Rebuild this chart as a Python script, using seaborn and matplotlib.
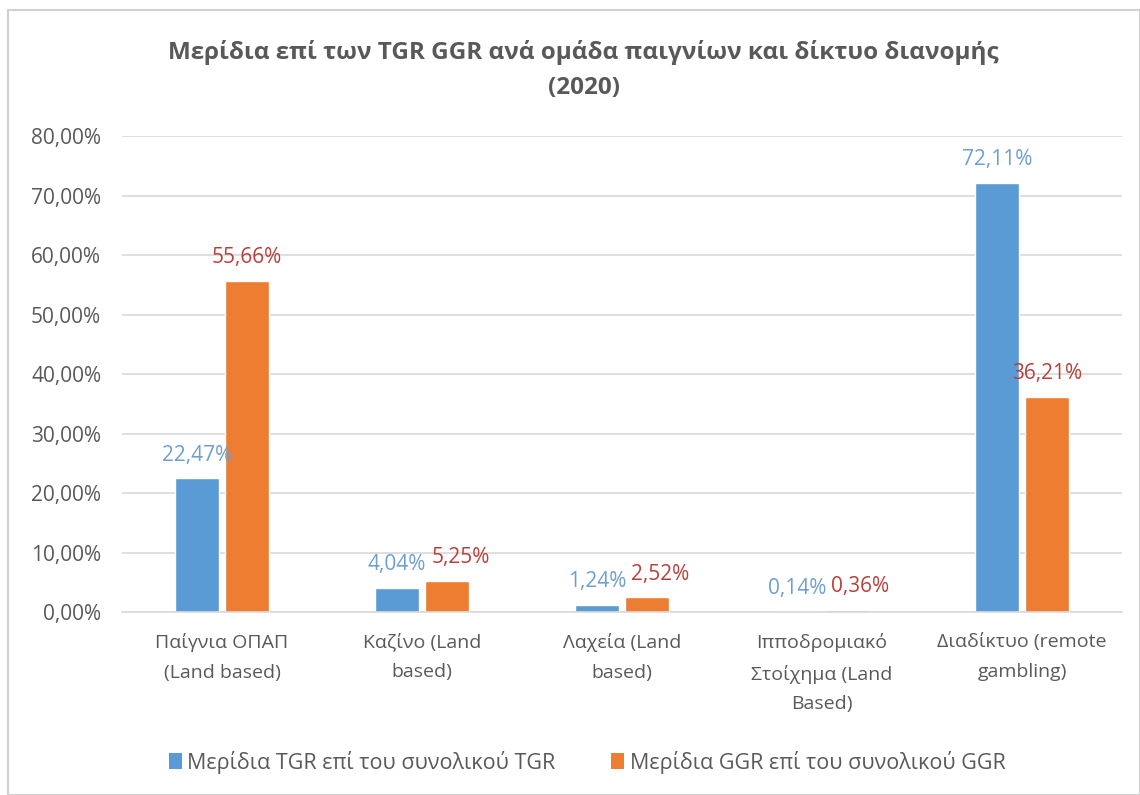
import matplotlib
matplotlib.use("Agg")
import matplotlib.pyplot as plt
import seaborn as sns
import pandas as pd
from matplotlib.patches import Rectangle, Patch

categories = ["Παίγνια ΟΠΑΠ\n(Land based)", "Καζίνο (Land\nbased)", "Λαχεία (Land\nbased)",
              "Ιπποδρομιακό\nΣτοίχημα (Land\nBased)", "Διαδίκτυο (remote\ngambling)"]
series_names = ["Μερίδια TGR επί του συνολικού TGR", "Μερίδια GGR επί του συνολικού GGR"]
tgr_values = [22.47, 4.04, 1.24, 0.14, 72.11]
ggr_values = [55.66, 5.25, 2.52, 0.36, 36.21]
y_ticks = [0, 10, 20, 30, 40, 50, 60, 70, 80]
title = "Μερίδια επί των TGR GGR ανά ομάδα παιγνίων και δίκτυο διανομής\n(2020)"

bar_colors = ["#5B9BD5", "#ED7D31"]
label_colors = ["#6f9fd0", "#b8403a"]
gray = "#595959"

sns.set_theme(style="white")
plt.rcParams["font.family"] = ["Open Sans", "DejaVu Sans"]

df = pd.DataFrame({
    "cat": categories * 2,
    "series": [series_names[0]] * len(categories) + [series_names[1]] * len(categories),
    "value": tgr_values + ggr_values,
})

fig = plt.figure(figsize=(11.4, 7.95), dpi=100)
fig.patch.set_facecolor("white")
fig.patches.append(Rectangle((8 / 1140, 0), 1 - 8 / 1140, 1 - 10 / 795, transform=fig.transFigure,
                             fill=False, edgecolor="#d0d0d0", linewidth=1.5))
ax = fig.add_axes([122 / 1140, 1 - 612 / 795, 1000 / 1140, (612 - 136) / 795])

sns.barplot(data=df, x="cat", y="value", hue="series", palette=bar_colors,
            width=0.5, gap=0.12, ax=ax, legend=False, saturation=1)

ax.set_ylim(0, 80)
ax.set_yticks(y_ticks)
ax.set_yticklabels([f"{t},00%" for t in y_ticks], color=gray, fontsize=15)
ax.set_xticks(range(len(categories)))
ax.set_xticklabels(categories, color=gray, fontsize=14, linespacing=1.85)
ax.tick_params(axis="x", length=0, pad=15)
ax.tick_params(axis="y", length=0, pad=15)
ax.set_xlabel("")
ax.set_ylabel("")
ax.yaxis.grid(True, color="#d9d9d9", linewidth=1.2)
ax.set_axisbelow(True)
for s in ["top", "right", "left"]:
    ax.spines[s].set_visible(False)
ax.spines["bottom"].set_color("#d9d9d9")
ax.spines["bottom"].set_linewidth(1.2)

label_sets = []
for container, vals, col in zip(ax.containers, [tgr_values, ggr_values], label_colors):
    labels = [f"{v:.2f}%".replace(".", ",") for v in vals]
    label_sets.append(ax.bar_label(container, labels=labels, padding=9, color=col, fontsize=15))

# nudge the second label of a pair to the right when the two labels collide
fig.canvas.draw()
renderer = fig.canvas.get_renderer()
for a, b in zip(label_sets[0], label_sets[1]):
    ba = a.get_window_extent(renderer)
    bb = b.get_window_extent(renderer)
    if ba.y1 > bb.y0 and bb.y1 > ba.y0:
        overlap = ba.x1 - bb.x0 + 5
        if overlap > 0:
            dx, dy = b.xyann
            b.xyann = (dx + overlap * 72 / fig.dpi, dy)

fig.text(0.512, 1 - 70 / 795, title, ha="center", va="center", fontsize=17.5, fontweight="bold",
         color=gray, linespacing=1.6)

handles = [Patch(facecolor=c, edgecolor="none") for c in bar_colors]
fig.legend(handles, series_names, loc="center", bbox_to_anchor=(0.515, 1 - 762 / 795), ncol=2,
           frameon=False, fontsize=15.5, labelcolor=gray, handlelength=0.6, handleheight=0.8,
           handletextpad=0.25, columnspacing=2.6)

fig.savefig("out.png", dpi=100, facecolor="white")
